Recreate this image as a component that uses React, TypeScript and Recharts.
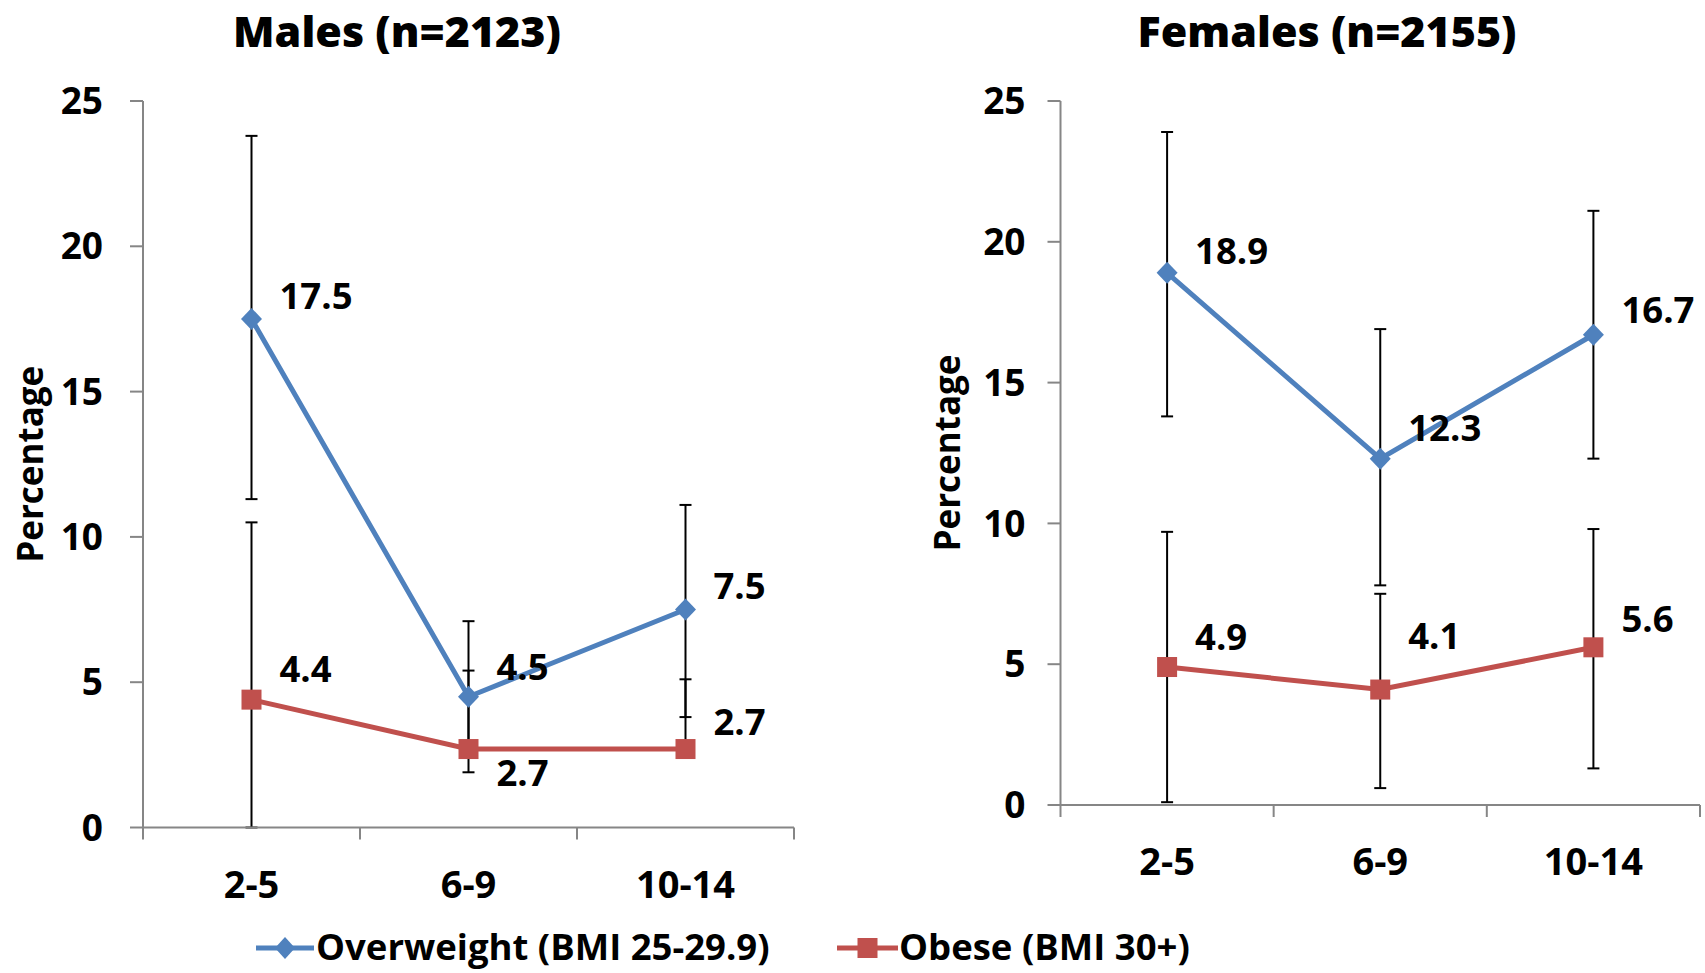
import React from 'react';
import { LineChart, Line, XAxis, YAxis, ErrorBar, LabelList } from 'recharts';

const ageGroups = ['2-5', '6-9', '10-14'];

// Males (n=2123): point estimate, lower and upper bound of the error bar
const maleOverweight = [17.5, 4.5, 7.5];
const maleOverweightLow = [11.3, 1.9, 3.8];
const maleOverweightHigh = [23.8, 7.1, 11.1];
const maleObese = [4.4, 2.7, 2.7];
const maleObeseLow = [0, 2.7, 2.7];
const maleObeseHigh = [10.5, 5.4, 5.1];

// Females (n=2155)
const femaleOverweight = [18.9, 12.3, 16.7];
const femaleOverweightLow = [13.8, 7.8, 12.3];
const femaleOverweightHigh = [23.9, 16.9, 21.1];
const femaleObese = [4.9, 4.1, 5.6];
const femaleObeseLow = [0.1, 0.6, 1.3];
const femaleObeseHigh = [9.7, 7.5, 9.8];

const yTicks = [0, 5, 10, 15, 20, 25];

const BLUE = '#4F81BD';
const RED = '#C0504D';
const AXIS = '#868686';
const FONT = "'Open Sans', 'DejaVu Sans', sans-serif";

// vertical nudge of each data label (label styling only)
const maleOverweightNudge = [-24, -31, -25];
const maleObeseNudge = [-32, 23, -28];
const femaleOverweightNudge = [-23, -32, -26];
const femaleObeseNudge = [-31, -55, -29];

const buildRows = (
  ow: number[], owLo: number[], owHi: number[],
  ob: number[], obLo: number[], obHi: number[]
) =>
  ageGroups.map((age, i) => ({
    age,
    overweight: ow[i],
    overweightErr: [ow[i] - owLo[i], owHi[i] - ow[i]],
    obese: ob[i],
    obeseErr: [ob[i] - obLo[i], obHi[i] - ob[i]],
  }));

const maleRows = buildRows(maleOverweight, maleOverweightLow, maleOverweightHigh, maleObese, maleObeseLow, maleObeseHigh);
const femaleRows = buildRows(femaleOverweight, femaleOverweightLow, femaleOverweightHigh, femaleObese, femaleObeseLow, femaleObeseHigh);

const Diamond = (props: any) => {
  const { cx, cy, index } = props;
  if (cx == null || cy == null) return null;
  return (
    <path
      key={`dia-${index}`}
      d={`M${cx},${cy - 11}L${cx + 10.5},${cy}L${cx},${cy + 11}L${cx - 10.5},${cy}Z`}
      fill={BLUE}
    />
  );
};

const Square = (props: any) => {
  const { cx, cy, index } = props;
  if (cx == null || cy == null) return null;
  return <rect key={`sq-${index}`} x={cx - 10} y={cy - 10} width={20} height={20} fill={RED} />;
};

const makeLabel = (nudges: number[]) => (props: any) => {
  const x = props.x ?? props.viewBox?.x;
  const y = props.y ?? props.viewBox?.y;
  const { value, index } = props;
  if (x == null || y == null) return null;
  return (
    <text
      key={`lbl-${index}`}
      x={x + 28}
      y={y + nudges[index]}
      fill="#000"
      fontSize={36.5}
      fontWeight="bold"
      fontFamily={FONT}
      dominantBaseline="central"
    >
      {value}
    </text>
  );
};

const makeXTick = (half: number) => (props: any) => {
  const { x, y, payload, index } = props;
  return (
    <g key={`xt-${index}`}>
      <line x1={x - half} x2={x - half} y1={y} y2={y + 12} stroke={AXIS} strokeWidth={2} />
      {index === ageGroups.length - 1 && (
        <line x1={x + half} x2={x + half} y1={y} y2={y + 12} stroke={AXIS} strokeWidth={2} />
      )}
      <text
        x={x}
        y={y + 55}
        textAnchor="middle"
        dominantBaseline="central"
        fill="#000"
        fontSize={38}
        fontWeight="bold"
        fontFamily={FONT}
      >
        {payload.value}
      </text>
    </g>
  );
};

const yLabel = (cx: number) => (props: any) => {
  const vb = props.viewBox;
  const cy = vb.y + vb.height / 2;
  return (
    <text
      x={cx}
      y={cy}
      transform={`rotate(-90, ${cx}, ${cy})`}
      textAnchor="middle"
      dominantBaseline="central"
      fill="#000"
      fontSize={35}
      fontWeight="bold"
      fontFamily={FONT}
    >
      Percentage
    </text>
  );
};

type PanelProps = {
  rows: any[];
  width: number;
  margin: { top: number; right: number; bottom: number; left: number };
  pad: number;
  tickMargin: number;
  labelX: number;
  owNudge: number[];
  obNudge: number[];
};

// chart boxes run from y=60 to y=920, leaving the title strip and legend strip free
const Panel = ({ rows, width, margin, pad, tickMargin, labelX, owNudge, obNudge }: PanelProps) => (
  <LineChart width={width} height={860} data={rows} margin={margin}>
    <XAxis
      dataKey="age"
      height={80}
      interval={0}
      padding={{ left: pad, right: pad }}
      axisLine={{ stroke: AXIS, strokeWidth: 2 }}
      tickLine={false}
      tickSize={0}
      tickMargin={0}
      tick={makeXTick(pad)}
    />
    <YAxis
      width={60}
      domain={[0, 25]}
      ticks={yTicks}
      interval={0}
      allowDataOverflow
      axisLine={{ stroke: AXIS, strokeWidth: 2 }}
      tickLine={{ stroke: AXIS, strokeWidth: 2 }}
      tickSize={13}
      tickMargin={tickMargin}
      tick={{ fill: '#000', fontSize: 37, fontWeight: 'bold', fontFamily: FONT }}
      label={{ content: yLabel(labelX) }}
    />
    <Line
      type="linear"
      dataKey="overweight"
      name="Overweight (BMI 25-29.9)"
      stroke={BLUE}
      strokeWidth={5}
      dot={(p: any) => <Diamond {...p} />}
      activeDot={false}
      isAnimationActive={false}
    >
      <ErrorBar dataKey="overweightErr" direction="y" width={6} stroke="#000" strokeWidth={2} />
      <LabelList dataKey="overweight" content={makeLabel(owNudge)} />
    </Line>
    <Line
      type="linear"
      dataKey="obese"
      name="Obese (BMI 30+)"
      stroke={RED}
      strokeWidth={5}
      dot={(p: any) => <Square {...p} />}
      activeDot={false}
      isAnimationActive={false}
    >
      <ErrorBar dataKey="obeseErr" direction="y" width={6} stroke="#000" strokeWidth={2} />
      <LabelList dataKey="obese" content={makeLabel(obNudge)} />
    </Line>
  </LineChart>
);

const titleStyle: React.CSSProperties = {
  position: 'absolute',
  top: 1,
  width: 600,
  height: 60,
  textAlign: 'center',
  fontFamily: FONT,
  fontWeight: 800,
  fontSize: 43,
  lineHeight: 'normal',
  color: '#000',
  whiteSpace: 'nowrap',
};

const legendText: React.CSSProperties = {
  fontFamily: FONT,
  fontWeight: 'bold',
  fontSize: 36.5,
  color: '#000',
  lineHeight: 'normal',
  whiteSpace: 'nowrap',
};

export default function App() {
  return (
    <div style={{ position: 'absolute', left: 0, top: 0, width: 1705, height: 973, background: '#fff', overflow: 'hidden' }}>
      <div style={{ ...titleStyle, left: 397 - 300 }}>Males (n=2123)</div>
      <div style={{ ...titleStyle, left: 1327 - 300 }}>Females (n=2155)</div>

      <div style={{ position: 'absolute', left: 0, top: 60 }}>
        <Panel
          rows={maleRows}
          width={830}
          margin={{ top: 41, right: 36, bottom: 12.5, left: 83 }}
          pad={108.5}
          tickMargin={27}
          labelX={29}
          owNudge={maleOverweightNudge}
          obNudge={maleObeseNudge}
        />
      </div>
      <div style={{ position: 'absolute', left: 900, top: 60 }}>
        <Panel
          rows={femaleRows}
          width={805}
          margin={{ top: 41, right: 5, bottom: 35, left: 100.5 }}
          pad={106.6}
          tickMargin={22}
          labelX={46}
          owNudge={femaleOverweightNudge}
          obNudge={femaleObeseNudge}
        />
      </div>

      <div style={{ position: 'absolute', left: 256, top: 921, display: 'flex', alignItems: 'center' }}>
        <svg width={60} height={50}>
          <line x1={0} x2={58} y1={27} y2={27} stroke={BLUE} strokeWidth={5} />
          <path d="M29,16L39,27L29,38L19,27Z" fill={BLUE} />
        </svg>
        <span style={legendText}>Overweight (BMI 25-29.9)</span>
      </div>
      <div style={{ position: 'absolute', left: 837, top: 921, display: 'flex', alignItems: 'center' }}>
        <svg width={62} height={50}>
          <line x1={0} x2={61} y1={27} y2={27} stroke={RED} strokeWidth={5} />
          <rect x={20.5} y={17} width={20} height={20} fill={RED} />
        </svg>
        <span style={legendText}>Obese (BMI 30+)</span>
      </div>
    </div>
  );
}
